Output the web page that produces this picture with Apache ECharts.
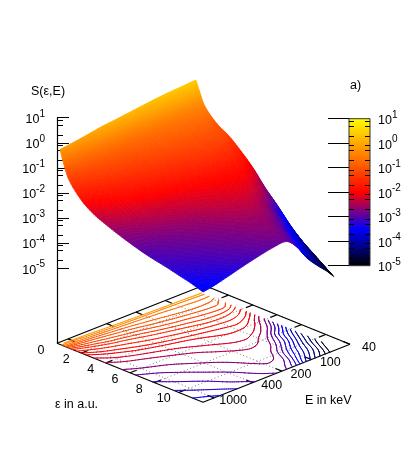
<!DOCTYPE html>
<html>
<head>
<meta charset="UTF-8">
<title>S(ε,E)</title>
<script src="https://cdn.jsdelivr.net/npm/echarts@6/dist/echarts.min.js"></script>
<style>html,body{margin:0;padding:0;background:#fff}</style>
</head>
<body>
<div id="main" style="width:407px;height:475px;"></div>
<script>
var epsValues = [0.25, 0.5, 1, 2, 3, 4, 5, 6, 7, 8, 9, 10, 11, 12];
var energyValues = [1300, 1000, 700, 500, 350, 250, 180, 140, 110, 85, 70, 60, 52];
// log10 of S, one row per epsValues entry, one column per energyValues entry
var logS = [
	[-0.22, -0.16, -0.07, 0.03, 0.10, 0.17, 0.24, 0.29, 0.33, 0.36, 0.38, 0.40, 0.41],
	[-0.65, -0.60, -0.45, -0.33, -0.25, -0.18, -0.12, -0.07, -0.03, 0.00, 0.03, 0.06, 0.08],
	[-1.30, -1.10, -0.98, -0.88, -0.80, -0.73, -0.68, -0.64, -0.60, -0.57, -0.54, -0.52, -0.50],
	[-1.90, -1.65, -1.42, -1.30, -1.20, -1.10, -1.02, -0.97, -0.93, -0.90, -0.90, -0.92, -1.00],
	[-2.25, -2.03, -1.83, -1.67, -1.52, -1.41, -1.32, -1.27, -1.22, -1.18, -1.16, -1.17, -1.30],
	[-2.47, -2.30, -2.12, -1.98, -1.85, -1.74, -1.63, -1.55, -1.49, -1.47, -1.50, -1.58, -1.72],
	[-2.66, -2.54, -2.40, -2.27, -2.15, -2.05, -1.96, -1.90, -1.85, -1.81, -1.86, -1.98, -2.20],
	[-2.83, -2.73, -2.61, -2.49, -2.36, -2.23, -2.13, -2.07, -2.04, -2.06, -2.20, -2.48, -2.80],
	[-2.98, -2.90, -2.79, -2.67, -2.55, -2.40, -2.28, -2.22, -2.21, -2.35, -2.64, -2.95, -3.30],
	[-3.10, -3.01, -2.90, -2.79, -2.68, -2.55, -2.43, -2.38, -2.46, -2.80, -3.22, -3.52, -3.85],
	[-3.20, -3.11, -3.00, -2.89, -2.79, -2.67, -2.57, -2.56, -2.72, -3.15, -3.58, -3.95, -4.30],
	[-3.32, -3.22, -3.10, -2.98, -2.87, -2.75, -2.66, -2.72, -3.10, -3.60, -4.00, -4.35, -4.65],
	[-3.44, -3.35, -3.21, -3.07, -2.95, -2.83, -2.76, -2.93, -3.45, -3.95, -4.32, -4.68, -5.00],
	[-3.60, -3.52, -3.36, -3.20, -3.05, -2.93, -2.90, -3.30, -3.90, -4.38, -4.70, -5.00, -5.30]
];
var contourLevels = [-0.2, -0.45, -0.7, -0.9, -1.05, -1.2, -1.35, -1.5, -1.7, -1.9, -2.05, -2.25, -2.45, -2.72, -2.9, -3.08, -3.27, -3.46, -3.65, -3.85, -4.05, -4.25, -4.45, -4.65, -4.85];
var epsTicks = [2, 4, 6, 8, 10];
var energyTicks = [1000, 400, 200, 100, 40];
var zDecades = [-5, -4, -3, -2, -1, 0, 1];
var zMinorFactors = [2, 5, 8];
var paletteStops = [[-5, '#000000'], [-3.5, '#0000ff'], [-2, '#ff0000'], [1, '#ffff00']];

var FONT = '"Liberation Sans", Arial, sans-serif';
var FONT_SIZE = 12.5;
var epsMax = 12, energyMax = 1300, energyMin = 40;
var floorDecade = -8;
var zTop = 1;
var pxPerDecade = 225.6 / (zTop - floorDecade);
var SUB = 6;

function vOf(eps) { return eps / epsMax; }
function uOf(E) { return Math.log(energyMax / E) / Math.log(energyMax / energyMin); }

// oblique floor projection, gives values on the two axes of the main grid
function project(v, u, d) {
	return [146 * v + 147 * u, d - (59 * v - 58 * u) / pxPerDecade];
}

function paletteColor(d) {
	var s = paletteStops;
	if (d <= s[0][0]) return s[0][1];
	for (var i = 1; i < s.length; i++) {
		if (d <= s[i][0]) {
			return echarts.color.lerp((d - s[i - 1][0]) / (s[i][0] - s[i - 1][0]), [s[i - 1][1], s[i][1]]);
		}
	}
	return s[s.length - 1][1];
}

// smooth resampling of the read grid for drawing
function cr(arr, t) {
	var n = arr.length - 1;
	var i = Math.min(Math.floor(t), n - 1), f = t - i;
	var p0 = arr[Math.max(i - 1, 0)], p1 = arr[i], p2 = arr[i + 1], p3 = arr[Math.min(i + 2, n)];
	if (i == 0) p0 = 2 * p1 - p2;
	if (i + 2 > n) p3 = 2 * p2 - p1;
	return 0.5 * (2 * p1 + (p2 - p0) * f + (2 * p0 - 5 * p1 + 4 * p2 - p3) * f * f + (3 * p1 - p0 - 3 * p2 + p3) * f * f * f);
}

var vList = epsValues.map(vOf);
var uList = energyValues.map(uOf);
var nRow = (vList.length - 1) * SUB + 1, nCol = (uList.length - 1) * SUB + 1;
var mesh = [];
for (var r = 0; r < nRow; r++) {
	var s = r / SUB;
	var line = [];
	var vv = cr(vList, s);
	for (var c = 0; c < nCol; c++) {
		var t = c / SUB;
		var col = logS.map(function (row) { return cr(row, t); });
		line.push({ v: vv, u: cr(uList, t), d: cr(col, s) });
	}
	mesh.push(line);
}

function renderSurfaceCell(params, api) {
	var i = api.value(0), j = api.value(1);
	var children = [];
	for (var a = 0; a < SUB; a++) {
		for (var b = SUB - 1; b >= 0; b--) {
			var r = i * SUB + a, c = j * SUB + b;
			var q = [mesh[r][c], mesh[r][c + 1], mesh[r + 1][c + 1], mesh[r + 1][c]];
			var avg = (q[0].d + q[1].d + q[2].d + q[3].d) / 4;
			if (avg < -5) continue;
			var color = paletteColor(avg);
			children.push({
				type: 'polygon',
				shape: { points: q.map(function (p) { return api.coord(project(p.v, p.u, p.d)); }) },
				style: { fill: color, stroke: color, lineWidth: 0.8 }
			});
		}
	}
	return { type: 'group', children: children };
}

function renderContour(params, api) {
	var lev = api.value(0);
	var color = paletteColor(lev);
	var children = [];
	function cross(p, q) {
		var f = (lev - p.d) / (q.d - p.d);
		return api.coord(project(p.v + (q.v - p.v) * f, p.u + (q.u - p.u) * f, floorDecade));
	}
	for (var r = 0; r < nRow - 1; r++) {
		for (var c = 0; c < nCol - 1; c++) {
			var q = [mesh[r][c], mesh[r][c + 1], mesh[r + 1][c + 1], mesh[r + 1][c]];
			var pts = [];
			for (var k = 0; k < 4; k++) {
				var p1 = q[k], p2 = q[(k + 1) % 4];
				if ((p1.d < lev) != (p2.d < lev)) pts.push(cross(p1, p2));
			}
			if (pts.length >= 2) {
				children.push({
					type: 'line',
					shape: { x1: pts[0][0], y1: pts[0][1], x2: pts[1][0], y2: pts[1][1] },
					style: { stroke: color, lineWidth: 1, lineCap: 'round' }
				});
			}
		}
	}
	return { type: 'group', children: children };
}

function floorLine(api, v1, u1, v2, u2, style) {
	var a = api.coord(project(v1, u1, floorDecade)), b = api.coord(project(v2, u2, floorDecade));
	return { type: 'line', shape: { x1: a[0], y1: a[1], x2: b[0], y2: b[1] }, style: style };
}

function renderFloorGrid(params, api) {
	var kind = api.value(0), pos = api.value(1);
	var dots = { stroke: '#808080', lineWidth: 1, lineDash: [1, 2.5] };
	return kind == 0 ? floorLine(api, vOf(pos), 0, vOf(pos), 1, dots) : floorLine(api, 0, uOf(pos), 1, uOf(pos), dots);
}

function floorText(x, y, text) {
	return { type: 'text', style: { x: x, y: y, text: text, fill: '#000', fontSize: FONT_SIZE, fontFamily: FONT, align: 'center', verticalAlign: 'middle' } };
}

function renderFloorFrame(params, api) {
	var black = { stroke: '#000', lineWidth: 1.2 };
	var kids = [
		floorLine(api, 0, 0, 1, 0, black), floorLine(api, 1, 0, 1, 1, black),
		floorLine(api, 1, 1, 0, 1, black), floorLine(api, 0, 1, 0, 0, black)
	];
	var len = 0.045;
	epsTicks.forEach(function (e) {
		var v = vOf(e);
		kids.push(floorLine(api, v, 0, v, len, black));
		kids.push(floorLine(api, v, 1, v, 1 - len, black));
		var p = api.coord(project(v, 0, floorDecade));
		kids.push(floorText(p[0] - 15, p[1] + 6.5, String(e)));
	});
	energyTicks.forEach(function (E) {
		var u = uOf(E);
		kids.push(floorLine(api, 0, u, len, u, black));
		kids.push(floorLine(api, 1, u, 1 - len, u, black));
		var p = api.coord(project(1, u, floorDecade));
		kids.push(floorText(p[0] + 19, p[1] + 3, String(E)));
	});
	var o = api.coord(project(0, 0, floorDecade));
	kids.push(floorText(o[0] - 16, o[1] + 7, '0'));
	return { type: 'group', children: kids };
}

function renderColorBar(params, api) {
	var a = api.coord([0, paletteStops[paletteStops.length - 1][0]]);
	var b = api.coord([1, paletteStops[0][0]]);
	var lo = paletteStops[0][0], hi = paletteStops[paletteStops.length - 1][0];
	var grad = paletteStops.map(function (s) { return { offset: (s[0] - lo) / (hi - lo), color: s[1] }; });
	return {
		type: 'rect',
		shape: { x: a[0], y: a[1], width: b[0] - a[0], height: b[1] - a[1] },
		style: { fill: new echarts.graphic.LinearGradient(0, 1, 0, 0, grad), stroke: '#333', lineWidth: 1 }
	};
}

function powerLabel(val) {
	return '{b|10}{s|' + val + '}';
}
var powerRich = {
	b: { fontSize: FONT_SIZE, fontFamily: FONT, color: '#000', verticalAlign: 'bottom' },
	s: { fontSize: 10, fontFamily: FONT, color: '#000', verticalAlign: 'top', padding: [0, 0, 7, 0] }
};

var zMinor = [];
zDecades.forEach(function (d) {
	if (d == zTop) return;
	zMinorFactors.forEach(function (f) { zMinor.push(d + Math.log10(f)); });
});

var surfaceCells = [];
for (var i = 0; i < epsValues.length - 1; i++) {
	for (var j = energyValues.length - 2; j >= 0; j--) surfaceCells.push([i, j]);
}
var gridItems = epsTicks.map(function (e) { return [0, e]; }).concat(energyTicks.map(function (E) { return [1, E]; }));

function tickAxis(gridIndex, min, max, position, values, len, showLabel, showLine, margin, z) {
	return {
		type: 'value', gridIndex: gridIndex, min: min, max: max, interval: 1, position: position, z: z,
		splitLine: { show: false },
		axisLine: { show: showLine, lineStyle: { color: '#000', width: 1.2 } },
		axisTick: { show: true, inside: true, length: len, customValues: values, lineStyle: { color: '#000', width: 1 } },
		axisLabel: { show: showLabel, customValues: values, formatter: powerLabel, margin: margin, rich: powerRich }
	};
}

var myChart = echarts.init(document.getElementById('main'));
myChart.setOption({
	animation: false,
	backgroundColor: '#fff',
	grid: [
		{ left: 57, top: 117.7, width: 293, height: 225.6 },
		{ left: 349, top: 118.7, width: 21, height: 147 }
	],
	xAxis: [
		{ type: 'value', gridIndex: 0, min: 0, max: 293, show: false },
		{ type: 'value', gridIndex: 1, min: 0, max: 1, show: false }
	],
	yAxis: [
		tickAxis(0, floorDecade, zTop, 'left', zDecades, 12, true, true, 12, 0),
		tickAxis(0, floorDecade, zTop, 'left', zMinor, 6, false, false, 12, 0),
		tickAxis(1, -5, 1, 'right', zDecades, 21, true, false, 8, 8),
		tickAxis(1, -5, 1, 'right', zMinor, 5, false, false, 8, 8),
		tickAxis(1, -5, 1, 'left', zMinor, 5, false, false, 8, 8)
	],
	series: [
		{ type: 'custom', coordinateSystem: 'cartesian2d', xAxisIndex: 0, yAxisIndex: 0, silent: true, z: 1, data: gridItems, renderItem: renderFloorGrid },
		{ type: 'custom', coordinateSystem: 'cartesian2d', xAxisIndex: 0, yAxisIndex: 0, silent: true, z: 2, data: [[0, 0]], renderItem: renderFloorFrame },
		{ type: 'custom', coordinateSystem: 'cartesian2d', xAxisIndex: 0, yAxisIndex: 0, silent: true, z: 3, encode: { x: 0, y: 0 }, data: contourLevels.map(function (l) { return [l]; }), renderItem: renderContour },
		{ type: 'custom', coordinateSystem: 'cartesian2d', xAxisIndex: 0, yAxisIndex: 0, silent: true, z: 4, progressive: 0, data: surfaceCells, renderItem: renderSurfaceCell },
		{ type: 'custom', coordinateSystem: 'cartesian2d', xAxisIndex: 1, yAxisIndex: 2, silent: true, z: 6, data: [[0, 0]], renderItem: renderColorBar }
	],
	graphic: [
		{ type: 'text', left: 31, top: 85, style: { text: 'S(ε,E)', fill: '#000', fontSize: FONT_SIZE, fontFamily: FONT } },
		{ type: 'text', left: 350, top: 79, style: { text: 'a)', fill: '#000', fontSize: FONT_SIZE, fontFamily: FONT } },
		{ type: 'text', left: 55, top: 398, style: { text: 'ε in a.u.', fill: '#000', fontSize: FONT_SIZE, fontFamily: FONT } },
		{ type: 'text', left: 305, top: 394, style: { text: 'E in keV', fill: '#000', fontSize: FONT_SIZE, fontFamily: FONT } }
	]
});
</script>
</body>
</html>
